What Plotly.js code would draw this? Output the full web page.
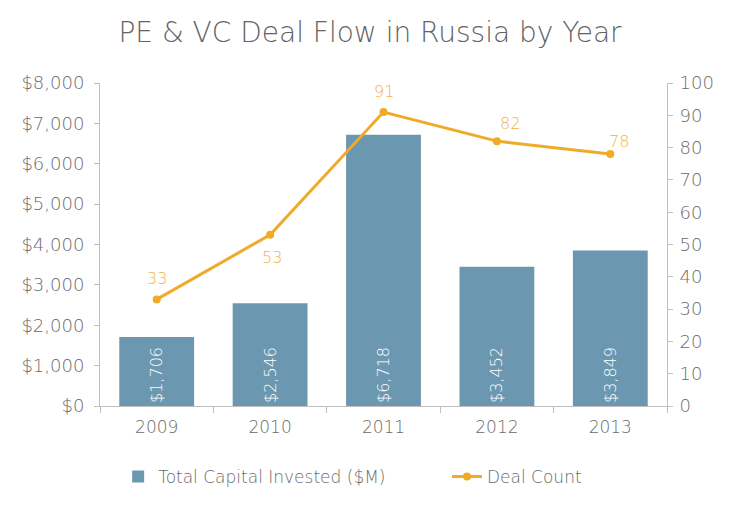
<!DOCTYPE html>
<html><head><meta charset="utf-8">
<script src="https://cdn.plot.ly/plotly-3.0.1.min.js"></script>
<style>html,body{margin:0;padding:0;background:#fff}#chart{width:740px;height:506px}</style>
</head><body><div id="chart"></div>
<script>
const years = ['2009','2010','2011','2012','2013'];
const capital = [1706, 2546, 6718, 3452, 3849];
const capitalLabels = ['$1,706','$2,546','$6,718','$3,452','$3,849'];
const dealCount = [33, 53, 91, 82, 78];
const leftTicks = [0,1000,2000,3000,4000,5000,6000,7000,8000];
const leftTickText = ['$0','$1,000','$2,000','$3,000','$4,000','$5,000','$6,000','$7,000','$8,000'];

const FONT = '"DejaVu Sans", sans-serif';
const GRAY = '#6b6b6b';
const BAR = '#6b98b0';
const ORANGE = '#f0aa2a';
const LABEL_ORANGE = '#f1b33f';
// label offsets (px) for the deal-count labels, as placed in the reference
const labelShift = [[0,21],[2,-23],[0,21],[13,18],[9,13]];

const traces = [
  {type:'bar', x:years, y:capital, name:'Total Capital Invested ($M)',
   marker:{color:BAR}, text:capitalLabels, textposition:'inside', textangle:-90,
   insidetextanchor:'start', textfont:{color:'#ffffff', size:16, family:FONT, weight:300},
   hoverinfo:'skip', legend:'legend'},
  {type:'scatter', mode:'lines+markers', x:years, y:dealCount, yaxis:'y2',
   name:'Deal Count', line:{color:ORANGE, width:3}, marker:{color:ORANGE, size:8},
   hoverinfo:'skip', legend:'legend2'}
];

const annotations = dealCount.map((v,i)=>({
  xref:'x', yref:'y2', x:i, y:v, text:String(v), showarrow:false,
  xshift:labelShift[i][0], yshift:labelShift[i][1],
  font:{color:LABEL_ORANGE, size:16, family:FONT, weight:300}
}));

const legendFont = {size:17, color:GRAY, family:FONT, weight:300};

const layout = {
  width:740, height:506,
  margin:{l:100, r:73, t:83, b:99},
  paper_bgcolor:'#fff', plot_bgcolor:'#fff',
  font:{family:FONT, color:GRAY, weight:300},
  title:{text:'PE & VC Deal Flow in Russia by Year', x:0.5, xanchor:'center', y:0.937, yanchor:'middle',
         font:{size:28, color:'#636363', family:FONT, weight:300}},
  bargap:0.34,
  showlegend:true,
  legend:{orientation:'h', x:0.032, xanchor:'left', y:-0.216, yanchor:'middle', font:legendFont},
  legend2:{orientation:'h', x:0.612, xanchor:'left', y:-0.216, yanchor:'middle', font:legendFont},
  xaxis:{type:'category', categoryorder:'array', categoryarray:years,
         showline:true, linecolor:'#bfbfbf', linewidth:1,
         ticks:'outside', tickson:'boundaries', ticklen:6, tickcolor:'#bfbfbf',
         tickfont:{size:17, color:GRAY, family:FONT, weight:300}, showgrid:false, zeroline:false,
         ticklabelstandoff:6},
  yaxis:{range:[0,8000], tickvals:leftTicks, ticktext:leftTickText, showline:true,
         linecolor:'#bfbfbf', ticks:'outside', ticklen:5, tickcolor:'#bfbfbf',
         tickfont:{size:18, color:GRAY, family:FONT, weight:300}, showgrid:false, zeroline:false,
         ticklabelstandoff:6},
  yaxis2:{range:[0,100], dtick:10, overlaying:'y', side:'right', showline:true,
          linecolor:'#bfbfbf', ticks:'outside', ticklen:5, tickcolor:'#bfbfbf',
          tickfont:{size:18, color:GRAY, family:FONT, weight:300}, showgrid:false, zeroline:false,
          ticklabelstandoff:3},
  annotations:annotations
};

Plotly.newPlot('chart', traces, layout, {displayModeBar:false, staticPlot:true});
</script></body></html>
